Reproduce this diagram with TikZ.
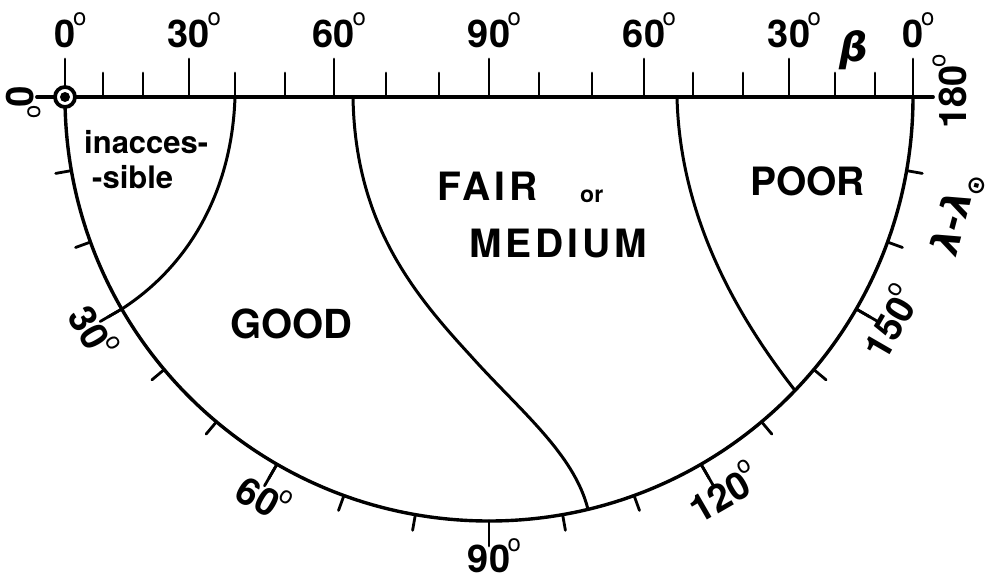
\documentclass[tikz,border=0pt]{standalone}
\usepackage{fontspec}
\setmainfont{TeX Gyre Heros}
\newfontfamily\spacedfont[LetterSpace=10]{TeX Gyre Heros}
\newfontfamily\greekfont{DejaVu Sans}
\newcommand{\dg}{\rlap{\smash{\kern-2.5pt\raisebox{0.56em}{\fontsize{24}{24}\selectfont\mdseries o}}}}
\begin{document}
\begin{tikzpicture}[x=1pt,y=1pt,line cap=round,
    scalelbl/.style={font=\fontsize{38}{38}\selectfont\bfseries,inner sep=0pt},
    zonelbl/.style={font=\fontsize{39}{39}\selectfont\bfseries,inner sep=0pt,anchor=base west},
    tick/.style={line width=2.8pt}]
\useasboundingbox (-489,97) rectangle (504,-485);
\draw[line width=3.4pt] (180:424) arc (180:360:424);
\draw[line width=3.8pt] (-452,0) -- (444,0);
\foreach \x/\h in {-424/38,-386/24,-346/24,-300/38,-254/24,-204/24,-155/38,-103/24,-50/24,
                   0/38,50/24,103/24,155/38,204/24,254/24,300/38,346/24,386/24,424/38}
    \draw[tick] (\x,0) -- (\x,\h);
\foreach \x/\deg in {-424/0,-300/30,-155/60,0/90,155/60,300/30,424/0}
    \node[scalelbl,anchor=base] at (\x,50) {\deg\dg};
\node[scalelbl,anchor=base,font=\fontsize{40}{40}\selectfont\greekfont\bfseries\itshape] (beta) at (365,36) {β};
\foreach \l in {10,20,...,170}
    \draw[tick] (180+\l:424) -- (180+\l:440);
\foreach \l in {30,60,...,150}
    \draw[tick] (180+\l:424) -- (180+\l:449);
\foreach \l in {30,60,...,150}
    \node[scalelbl,rotate=\l-90] at (180+\l:462) {\l\dg};
\node[scalelbl,rotate=-90] at (180:469) {0\dg};
\node[scalelbl,rotate=90] at (0:464) {180\dg};
\node[scalelbl,rotate=75,font=\fontsize{38}{38}\selectfont\greekfont\bfseries\itshape] (lam) at (346:483)
    {λ-λ\raisebox{-9pt}{\fontsize{24}{24}\selectfont\upshape ⊙}};
\coordinate (inacc) at (-254,0);
\coordinate (fair) at (-136,0);
\coordinate (poor) at (188,0);
\draw[line width=3pt] (inacc) .. controls (-257,-93) and (-299,-168) .. (210:424);
\draw[line width=3pt] (fair) .. controls (-134,-123) and (-79,-193) .. (-19,-258)
    .. controls (29,-312) and (85,-356) .. (283.5:424);
\draw[line width=3pt] (poor) .. controls (191,-123) and (251,-223) .. (316.2:424);
\draw[line width=3.8pt,fill=white] (-424,0) circle (10);
\fill (-424,0) circle (5);
\node[zonelbl,font=\fontsize{31}{31}\selectfont\bfseries] (inacces) at (-405,-56) {inacces-};
\node[zonelbl,font=\fontsize{31}{31}\selectfont\bfseries] (sible) at (-397,-91) {-sible};
\node[zonelbl,font=\fontsize{40}{40}\selectfont\bfseries] (good) at (-259,-241) {GOOD};
\node[zonelbl] (fairlbl) at (-52,-103) {\spacedfont FAIR};
\node[zonelbl,font=\fontsize{23}{23}\selectfont\bfseries] (or) at (91,-105) {or};
\node[zonelbl] (medium) at (-20,-160) {\spacedfont MEDIUM};
\node[zonelbl] (poorlbl) at (261,-98) {POOR};
\end{tikzpicture}
\end{document}
